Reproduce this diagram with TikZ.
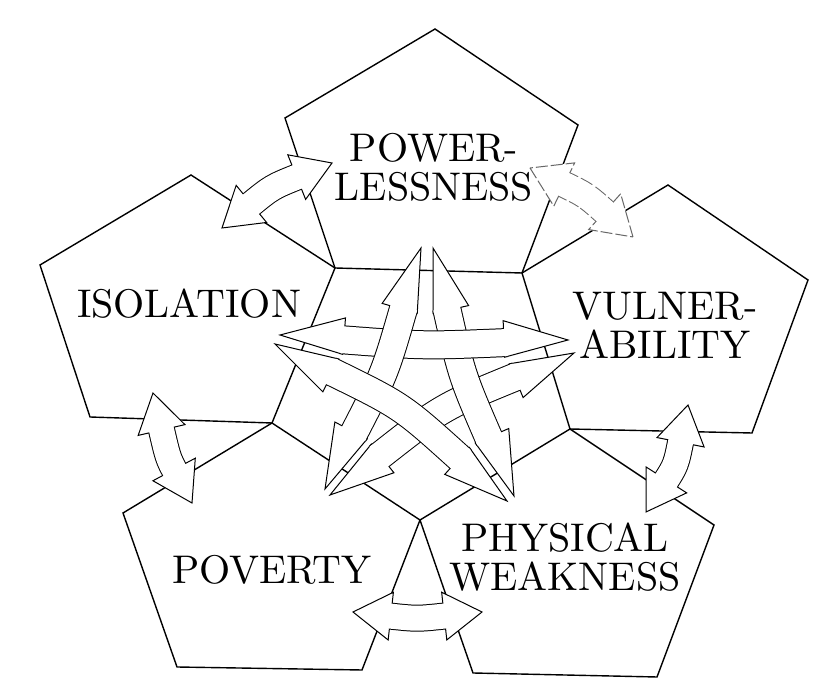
\documentclass[tikz,border=0pt]{standalone}
\usepackage{fontspec}
\newfontfamily\wordfont{lmroman10-regular.otf}
\usetikzlibrary{calc}

% arrow sizes: central star and outer ring
\newcommand{\centralsize}{\def\arwout{14.5pt}\def\arwin{13.5pt}\def\arwhl{32pt}\def\arwsh{30.5pt}}
\newcommand{\outersize}{\def\arwout{13.5pt}\def\arwin{12.5pt}\def\arwhl{19pt}\def\arwsh{17.5pt}}
% one arrow head: colour, tip, control, left width, right width
\newcommand{\arwtip}[5]{%
  \filldraw[draw=#1, fill=white, line width=0.5pt, line join=miter]
    (#2) -- ($(#2)!\arwhl!(#3)!#4!90:(#2)$) -- ($(#2)!\arwhl!(#3)!#5!-90:(#2)$) -- cycle;}
% hollow two-way arrow: [colour]{start}{control}{end}{left}{right}
\newcommand{\twoway}[6][black]{%
  \draw[draw=#1, line width=\arwout, shorten <=\arwsh, shorten >=\arwsh] (#2) .. controls (#3) .. (#4);
  \arwtip{#1}{#2}{#3}{#6}{#5}
  \arwtip{#1}{#4}{#3}{#5}{#6}
  \draw[white, line width=\arwin, shorten <=\arwsh, shorten >=\arwsh] (#2) .. controls (#3) .. (#4);}

\begin{document}
\begin{tikzpicture}[x=0.5pt, y=-0.5pt,
    rim/.style={line width=0.7pt, line join=miter},
    word/.style={font=\wordfont\fontsize{20}{19.5}\selectfont, align=center, inner sep=0pt}]
  \useasboundingbox (0,0) rectangle (820,683);

  % shared corners of the ring
  \coordinate (ip) at (335,268);
  \coordinate (pv) at (522,273);
  \coordinate (vw) at (570,429);
  \coordinate (wq) at (420,520);
  \coordinate (qi) at (272,423);

  % the five pentagons
  \draw[rim] (435,29) -- (578,125) -- (pv) -- (ip) -- (285,118) -- cycle;
  \draw[rim] (191,175) -- (ip) -- (qi) -- (90,417) -- (40,265) -- cycle;
  \draw[rim] (668,185) -- (808,280) -- (752,433) -- (vw) -- (pv) -- cycle;
  \draw[rim] (vw) -- (714,525) -- (657,677) -- (473,673) -- (wq) -- cycle;
  \draw[rim] (qi) -- (wq) -- (362,670) -- (177,667) -- (123,513) -- cycle;

  % outer ring arrows
  \outersize
  \coordinate (ipIso) at (222,228);  \coordinate (ipPow) at (332,163);  \coordinate (cIP) at (272,187);
  \coordinate (pvPow) at (530,168);  \coordinate (pvVul) at (633,237);  \coordinate (cPV) at (586,195);
  \coordinate (iqIso) at (153,393);  \coordinate (iqPov) at (192,503);  \coordinate (cIQ) at (168,458);
  \coordinate (vwVul) at (688,405);  \coordinate (vwPw)  at (646,512);  \coordinate (cVW) at (676,465);
  \coordinate (qwPov) at (353,612);  \coordinate (qwPw)  at (482,612);  \coordinate (cQW) at (417,619);
  \twoway{ipIso}{cIP}{ipPow}{12pt}{12pt}
  \twoway[black!60, dash pattern=on 6pt off 1.5pt]{pvPow}{cPV}{pvVul}{12pt}{12pt}
  \twoway{iqIso}{cIQ}{iqPov}{12pt}{12pt}
  \twoway{vwVul}{cVW}{vwPw}{12pt}{12pt}
  \twoway{qwPov}{cQW}{qwPw}{12pt}{12pt}

  % central star arrows
  \centralsize
  \coordinate (hIso) at (280,335);  \coordinate (hVul) at (568,340);  \coordinate (cH) at (424,346);
  \coordinate (lPow) at (421,248);  \coordinate (lPov) at (325,489);  \coordinate (cL) at (385,373);
  \coordinate (rPow) at (433,248);  \coordinate (rPw)  at (514,496);  \coordinate (cR) at (462,376);
  \coordinate (aIso) at (275,344);  \coordinate (aPw)  at (507,501);  \coordinate (cA) at (402,406);
  \coordinate (bVul) at (574,353);  \coordinate (bPov) at (330,495);  \coordinate (cB) at (442,407);
  \twoway{bVul}{cB}{bPov}{11pt}{7.25pt}
  \twoway{rPow}{cR}{rPw}{11pt}{7.25pt}
  \twoway{hIso}{cH}{hVul}{11pt}{7.25pt}
  \twoway{lPow}{cL}{lPov}{7.25pt}{11pt}
  \twoway{aIso}{cA}{aPw}{7.25pt}{11pt}

  % labels
  \node[word] (pow) at (434,167) {POWER-\\LESSNESS};
  \node[word] (iso) at (189,304) {ISOLATION};
  \node[word] (vul) at (665,325) {VULNER-\\ABILITY};
  \node[word] (pov) at (272,570) {POVERTY};
  \node[word] (phy) at (565,557) {PHYSICAL\\WEAKNESS};
\end{tikzpicture}
\end{document}
